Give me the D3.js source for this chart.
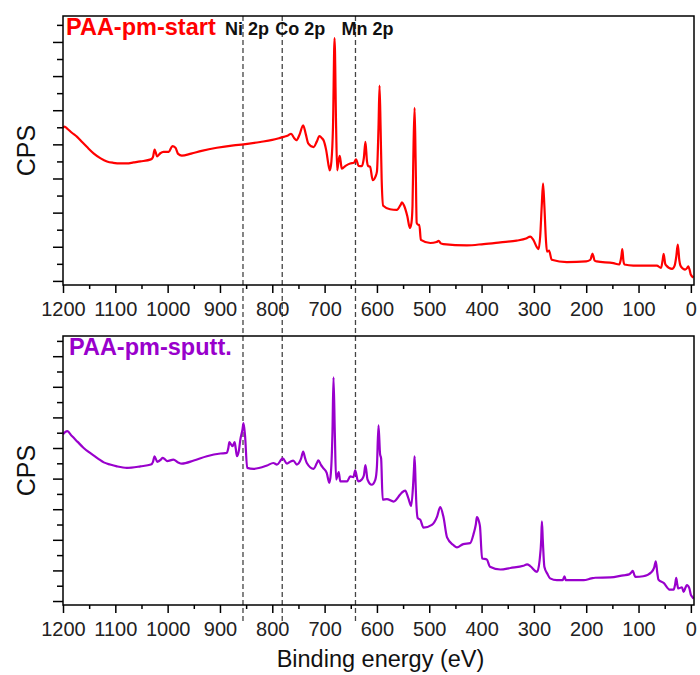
<!DOCTYPE html>
<html>
<head>
<meta charset="utf-8">
<script src="https://cdn.jsdelivr.net/npm/d3@7"></script>
<style>
  html, body { margin: 0; padding: 0; background: #fff; }
  svg { display: block; font-family: "Liberation Sans", Arial, sans-serif; }
</style>
</head>
<body>
<svg id="chart" width="700" height="675"></svg>
<script>
// ---------------- DATA ----------------
const xTickValues = [1200, 1100, 1000, 900, 800, 700, 600, 500, 400, 300, 200, 100, 0];
const xMinorTickValues = [1150, 1050, 950, 850, 750, 650, 550, 450, 350, 250, 150, 50];
const topYMajor = [0, 10, 20, 30, 40, 50, 60, 70];
const topYMinor = [5, 15, 25, 35, 45, 55, 65, 75];
const botYMajor = [0, 10, 20, 30, 40, 50, 60, 70, 80];
const botYMinor = [5, 15, 25, 35, 45, 55, 65, 75, 85];

const seriesNames = ["PAA-pm-start", "PAA-pm-sputt."];
const seriesColors = ["#ff0000", "#9900cc"];

const markerLabels = ["Ni 2p", "Co 2p", "Mn 2p"];
const markerEnergies = [856, 781, 641];

// binding energy (eV), CPS (arb. units)
const startData = [
  [1200,44.8],[1197,45.2],[1192,44.6],[1183,43.4],[1173,42.2],[1163,40.6],[1154,39.2],[1141,37.3],[1128,35.9],
  [1116,35.0],[1104,34.6],[1090,34.4],[1078,34.4],[1065,34.7],[1052,35.0],
  [1032,35.6],[1028,36.3],[1025,38.5],[1020,36.5],[1014,37.4],[1008,37.8],[998,37.8],[991,39.5],[985,39.0],
  [980,37.2],[973,36.7],[955,37.3],[935,38.1],[906,39.0],[874,39.7],[855,40.0],[823,40.7],[800,41.3],
  [785,41.9],[778,42.2],[770,42.6],[764,43.1],[758,41.8],[754,41.2],[748,42.8],[741,45.6],[736,43.0],
  [731,40.2],[721,39.2],[715,40.8],[710,42.4],[705,41.8],[702,41.2],[697,38.3],[692,33.5],[690,32.4],
  [687,35],[684,45],[681,71.1],[678,45],[676,32.4],[673,35.5],[671,36.6],[668,33.5],[667,32.9],[660,33.7],
  [651,34.4],[644,34.6],[640,35.6],[635,33.7],[629,33.6],[625,36],[622,40.7],[619,35],[617,33.7],[613,33.4],
  [608,29.5],[603,30.5],[600,32],[597,45],[595,57.2],[593,45],[591,30],[588,22.0],[575,21.0],[562,20.8],
  [555,22.2],[552,23.0],[548,22],[542,19],[537,15.5],[534,17],[532,22],[530,40],[528,50.7],[526,35],
  [524,17],[521,16.4],[519,16.4],[516,12.0],[498,11.1],[486,11.4],[482,11.7],[478,11],[473,10.8],
  [428,10.4],[396,10.8],[364,11.3],[333,11.8],[315,12.4],[307,13.0],[301,12.0],[294,9.8],[291,9.3],
  [288,13],[285,22],[282.5,28.6],[280,22],[277,12],[275,8.6],[271,8.9],[266,6.2],[237,5.5],[200,5.7],
  [192,6.2],[188,8.0],[184,6.0],[180,5.7],[148,5.2],[137,4.8],[133,7],[131,9.3],[129,6],[127,4.8],
  [110,4.5],[65,4.5],[57,3.8],[54,6],[52,7.9],[49,5],[47,4.5],[36,3.5],[31,4.5],[28,7],[25,10.6],
  [22,6],[20,4.5],[15,3.6],[11,3.3],[7,3.8],[5,4.3],[2,3],[0,1.8],[-5,1.0]
];

const sputtData = [
  [1200,54.5],[1195,55.3],[1192,55.5],[1183,53.9],[1172,52.0],[1161,50.1],[1151,48.7],[1141,47.5],[1131,46.3],
  [1122,45.3],[1110,44.6],[1097,44.0],[1078,43.5],
  [1052,44.0],[1032,44.6],[1028,45.5],[1025,47.3],[1020,45.5],[1013,46.2],[1010,46.8],[1005,46.3],[1001,45.7],
  [989,46.2],[980,45.3],[973,44.9],[950,45.9],[925,47.3],[899,48.2],[887,48.4],[884,50],[882,51.9],[876,50.6],
  [872,51.9],[870,50],[867.5,47.3],[864,49],[861,52.8],[857,56],[855,58.1],[852,53.9],[848,43.5],[836,43.2],
  [810,44.3],[798,45.1],[791,44.6],[780,46.6],[772,44.9],[765,45.6],[760,45.9],[753,44.6],[745,46.5],
  [741,48.8],[737,46.5],[734,45.1],[721,43.2],[715,45],[712,46.0],[707,44.5],[703,43.5],[696,41.9],
  [691,38.6],[688,41.9],[685,55],[683,73.1],[680.5,55],[678,39.7],[673,42.1],[670,39.1],[657,39.1],
  [651,40.7],[645,40.5],[641.5,42.7],[637,39.5],[635,39.1],[629,39.7],[625,41],[622,44.4],[618,39.7],
  [610,38.0],[603,39.7],[600,44],[597,57.4],[594,48],[592,46.6],[589,33.1],[581,33.3],[568,32.5],
  [556,34.7],[552,35.5],[546,36.1],[540,33.6],[534.5,31.1],[531,37.5],[529,44],[528,47.3],[526,38],
  [525,33.1],[522,27.1],[517,26.5],[511,24.0],[495,24.9],[485,27.6],[479,30.7],[473,27.6],[466,20.8],
  [454,18.3],[447,17.5],[435,18.6],[422,18.9],[415,22.1],[411,25],[409,27.4],[405,26],[403,24.3],
  [399,13.9],[390,13.6],[384,11.2],[364,10.3],[345,10.8],[320,11.5],[313,12.0],[307,11.4],[294,9.5],
  [289,13.4],[286,20],[284.7,26.0],[283,20],[280,11.2],[274,8.8],[269,7.4],[256,6.8],[245,6.8],
  [243,7.5],[241.5,8.1],[239,6.8],[237,6.8],[205,6.8],[190,7.4],[183,7.6],[154,7.7],[129,8.4],
  [118,8.7],[113,9.5],[111,9.9],[108,8.5],[106,7.9],[91,8.1],[75,9.5],[70,11],[67,13.0],[64,9],
  [62,7.0],[52,5.9],[40,3.7],[33,3.7],[30,5.5],[28,7.6],[26,5.5],[24,4.1],[17,4.5],[14,3.0],
  [10,4.5],[7.6,5.2],[3,4.2],[0,2],[-2,1.5],[-5,0.8]
];

// ---------------- LAYOUT ----------------
const svg = d3.select("#chart");
const left = 63, right = 694;
const panels = [
  { top: 16, bottom: 285, yDomain: [-1.2, 77.6], major: topYMajor, minor: topYMinor, data: startData,
    name: seriesNames[0], color: seriesColors[0], labelX: 66, labelY: 35 },
  { top: 336, bottom: 605, yDomain: [-1.3, 86.6], major: botYMajor, minor: botYMinor, data: sputtData,
    name: seriesNames[1], color: seriesColors[1], labelX: 69, labelY: 355 }
];

const x = d3.scaleLinear().domain([1200, -6]).range([left, right]);

// dashed marker lines spanning both panels
markerEnergies.forEach((e) => {
  svg.append("line")
    .attr("x1", x(e)).attr("x2", x(e))
    .attr("y1", 16).attr("y2", 622)
    .attr("stroke", "#444").attr("stroke-width", 1.3)
    .attr("stroke-dasharray", "5,3");
});

panels.forEach((p) => {
  const y = d3.scaleLinear().domain(p.yDomain).range([p.bottom, p.top]);
  const g = svg.append("g");

  // x axis (major + minor)
  const xAxis = d3.axisBottom(x).tickValues(xTickValues).tickSize(8).tickPadding(9).tickFormat(d3.format("d"));
  const gx = g.append("g").attr("transform", `translate(0,${p.bottom})`).call(xAxis);
  gx.select(".domain").remove();
  gx.selectAll(".tick line").attr("stroke", "#000").attr("stroke-width", 1.5);
  gx.selectAll(".tick text").attr("font-size", 20).attr("fill", "#222")
    .attr("font-family", "'Liberation Sans', Arial, sans-serif");
  const gxm = g.append("g").attr("transform", `translate(0,${p.bottom})`)
    .call(d3.axisBottom(x).tickValues(xMinorTickValues).tickSize(4).tickFormat(""));
  gxm.select(".domain").remove();
  gxm.selectAll(".tick line").attr("stroke", "#000").attr("stroke-width", 1.5);

  // y axis (ticks only, no labels)
  const gy = g.append("g").attr("transform", `translate(${left},0)`)
    .call(d3.axisLeft(y).tickValues(p.major).tickSize(10).tickFormat(""));
  gy.select(".domain").remove();
  gy.selectAll(".tick line").attr("stroke", "#000").attr("stroke-width", 1.5);
  const gym = g.append("g").attr("transform", `translate(${left},0)`)
    .call(d3.axisLeft(y).tickValues(p.minor).tickSize(6).tickFormat(""));
  gym.select(".domain").remove();
  gym.selectAll(".tick line").attr("stroke", "#000").attr("stroke-width", 1.5);

  // spectrum
  const line = d3.line().x(d => x(d[0])).y(d => y(d[1])).curve(d3.curveMonotoneX);
  g.append("path").datum(p.data)
    .attr("d", line).attr("fill", "none")
    .attr("stroke", p.color).attr("stroke-width", 2.2).attr("stroke-linejoin", "round");

  // frame
  g.append("rect")
    .attr("x", left).attr("y", p.top)
    .attr("width", right - left).attr("height", p.bottom - p.top)
    .attr("fill", "none").attr("stroke", "#000").attr("stroke-width", 1.5);

  // series label
  g.append("text").attr("x", p.labelX).attr("y", p.labelY)
    .attr("font-size", 23.5).attr("font-weight", "bold").attr("fill", p.color)
    .text(p.name);

  // y label
  g.append("text")
    .attr("transform", `translate(35,${(p.top + p.bottom) / 2}) rotate(-90)`)
    .attr("text-anchor", "middle").attr("font-size", 25).attr("fill", "#111")
    .text("CPS");
});

// marker labels
const labelOffsets = [-18, -7, -14];
markerLabels.forEach((t, i) => {
  svg.append("text")
    .attr("x", x(markerEnergies[i]) + labelOffsets[i]).attr("y", 35)
    .attr("font-size", 18).attr("font-weight", "bold").attr("fill", "#111")
    .text(t);
});

// x axis title
svg.append("text")
  .attr("x", (left + right) / 2 + 2).attr("y", 667)
  .attr("text-anchor", "middle").attr("font-size", 23.5).attr("fill", "#111")
  .text("Binding energy (eV)");
</script>
</body>
</html>
